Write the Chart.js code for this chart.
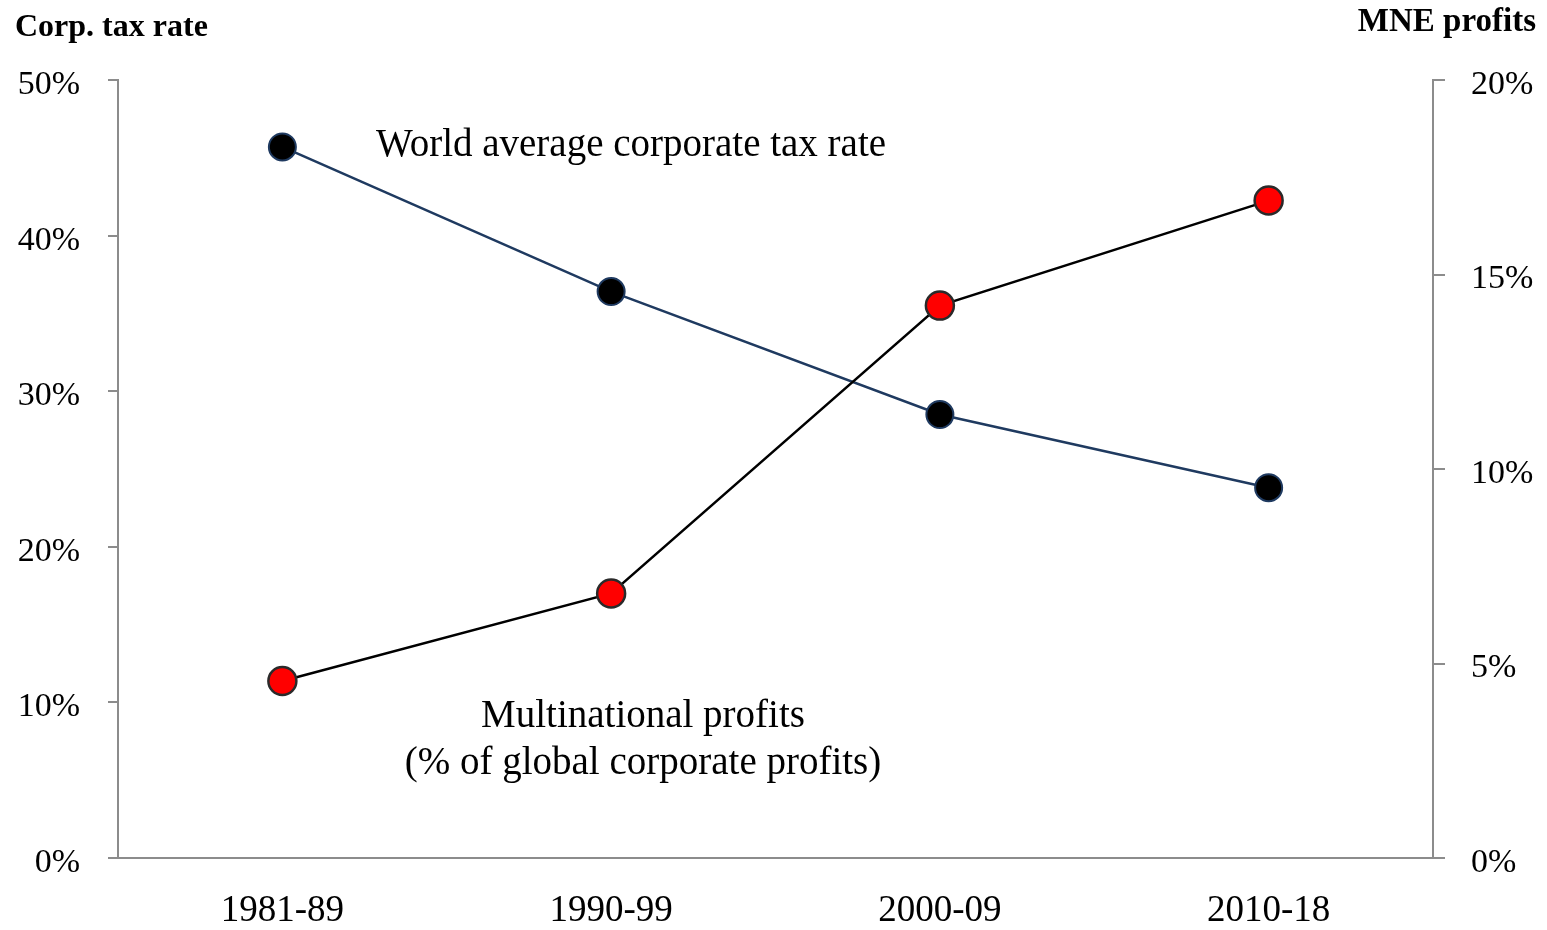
<!DOCTYPE html>
<html>
<head>
<meta charset="utf-8">
<script src="https://cdn.jsdelivr.net/npm/chart.js@4/dist/chart.umd.min.js"></script>
<style>
  html, body { margin: 0; padding: 0; background: #fff; }
  #wrap { width: 1547px; height: 930px; position: relative; }
</style>
</head>
<body>
<div id="wrap"><canvas id="chart" width="1547" height="930"></canvas></div>
<script>
const periods = ['1981-89', '1990-99', '2000-09', '2010-18'];
const taxRate = [45.7, 36.4, 28.5, 23.8];       // left axis, %
const mneProfits = [4.55, 6.8, 14.2, 16.9];     // right axis, %
const leftTicks = [0, 10, 20, 30, 40, 50];
const rightTicks = [0, 5, 10, 15, 20];

const serif = '"Liberation Serif", "DejaVu Serif", serif';
const axisGray = '#8c8c8c';

// texte sur le graphique
const textPlugin = {
  id: 'textes',
  afterDraw(chart) {
    const ctx = chart.ctx;
    ctx.save();
    ctx.fillStyle = '#000';
    ctx.font = 'bold 32px ' + serif;
    ctx.textBaseline = 'alphabetic';
    ctx.textAlign = 'left';
    ctx.fillText('Corp. tax rate', 15, 36);
    ctx.font = 'bold 33px ' + serif;
    ctx.textAlign = 'right';
    ctx.fillText('MNE profits', 1536, 31);

    ctx.font = '39px ' + serif;
    ctx.textAlign = 'center';
    ctx.fillText('World average corporate tax rate', 631, 156);
    ctx.fillText('Multinational profits', 643, 727);
    ctx.fillText('(% of global corporate profits)', 643, 774);
    ctx.restore();
  }
};

new Chart(document.getElementById('chart'), {
  type: 'line',
  data: {
    labels: periods,
    datasets: [
      {
        label: 'MNE profits',
        data: mneProfits,
        yAxisID: 'y2',
        borderColor: '#000',
        borderWidth: 2.5,
        pointRadius: 14,
        pointBackgroundColor: '#ff0000',
        pointBorderColor: '#2a2a2a',
        pointBorderWidth: 2.5,
        tension: 0
      },
      {
        label: 'Corp. tax rate',
        data: taxRate,
        yAxisID: 'y',
        borderColor: '#1f3a60',
        borderWidth: 2.5,
        pointRadius: 13.5,
        pointBackgroundColor: '#000',
        pointBorderColor: '#1f3a60',
        pointBorderWidth: 2,
        tension: 0
      }
    ]
  },
  options: {
    responsive: false,
    animation: false,
    layout: { padding: { top: 80, left: 0, right: 0, bottom: 0 } },
    plugins: { legend: { display: false }, tooltip: { enabled: false } },
    scales: {
      x: {
        offset: true,
        grid: { display: false, drawTicks: false },
        border: { color: axisGray, width: 2 },
        ticks: { color: '#000', font: { family: serif, size: 37 }, padding: 31 },
        afterFit(s) { s.height = 72; }
      },
      y: {
        position: 'left',
        min: 0, max: 50,
        afterBuildTicks(s) { s.ticks = leftTicks.map(v => ({ value: v })); },
        grid: { drawOnChartArea: false, drawTicks: true, tickLength: 10, color: axisGray, lineWidth: 2 },
        border: { color: axisGray, width: 2 },
        ticks: { color: '#000', font: { family: serif, size: 34 }, padding: 28, labelOffset: 5, callback: v => v + '%' },
        afterFit(s) { s.width = 118; }
      },
      y2: {
        position: 'right',
        min: 0, max: 20,
        afterBuildTicks(s) { s.ticks = rightTicks.map(v => ({ value: v })); },
        grid: { drawOnChartArea: false, drawTicks: true, tickLength: 12, color: axisGray, lineWidth: 2 },
        border: { color: axisGray, width: 2 },
        ticks: { color: '#000', font: { family: serif, size: 34 }, padding: 26, labelOffset: 5, callback: v => v + '%' },
        afterFit(s) { s.width = 114; }
      }
    }
  },
  plugins: [textPlugin]
});
</script>
</body>
</html>
